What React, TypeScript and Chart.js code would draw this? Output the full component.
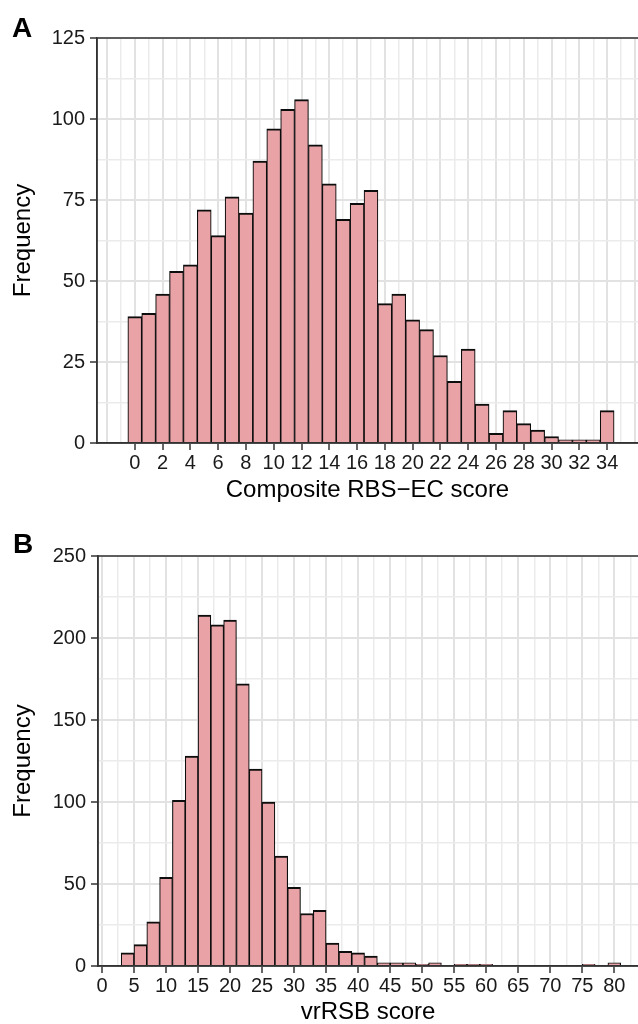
import React, { useEffect, useRef } from "react";
import { Chart, registerables } from "chart.js";

Chart.register(...registerables);

// ---------- Panel A data: Composite RBS−EC score ----------
const scoreA = [0, 1, 2, 3, 4, 5, 6, 7, 8, 9, 10, 11, 12, 13, 14, 15, 16, 17, 18, 19, 20, 21, 22, 23, 24, 25, 26, 27, 28, 29, 30, 31, 32, 33, 34];
const freqA = [39, 40, 46, 53, 55, 72, 64, 76, 71, 87, 97, 103, 106, 92, 80, 69, 74, 78, 43, 46, 38, 35, 27, 19, 29, 12, 3, 10, 6, 4, 2, 1, 1, 1, 10];
const xTickLabelsA = [0, 2, 4, 6, 8, 10, 12, 14, 16, 18, 20, 22, 24, 26, 28, 30, 32, 34];
const yTickLabelsA = [0, 25, 50, 75, 100, 125];

// ---------- Panel B data: vrRSB score (bin centres, width 2) ----------
const scoreB = [4, 6, 8, 10, 12, 14, 16, 18, 20, 22, 24, 26, 28, 30, 32, 34, 36, 38, 40, 42, 44, 46, 48, 50, 52, 54, 56, 58, 60, 62, 64, 66, 68, 70, 72, 74, 76, 78, 80];
const freqB = [8, 13, 27, 54, 101, 128, 214, 208, 211, 172, 120, 100, 67, 48, 32, 34, 14, 9, 8, 6, 2, 2, 2, 1, 2, 0, 1, 1, 1, 0, 0, 0, 0, 0, 0, 0, 1, 0, 2];
const xTickLabelsB = [0, 5, 10, 15, 20, 25, 30, 35, 40, 45, 50, 55, 60, 65, 70, 75, 80];
const yTickLabelsB = [0, 50, 100, 150, 200, 250];

const FONT = "'Liberation Sans', Arial, Helvetica, sans-serif";
const FILL = "#E9A3A7";
const EDGE = "#0d0d0d";
const GRID_MAJOR = "#E2E2E2";
const GRID_MINOR = "#EBEBEB";
const AXIS = "#333333";

type PanelSpec = {
  letter: string;
  letterX: number;
  letterY: number;
  xTitle: string;
  xs: number[];
  ys: number[];
  xMin: number;
  xMax: number;
  xMinorStep: number;
  xMajorStep: number;
  xLabels: number[];
  yMax: number;
  yMinorStep: number;
  yMajorStep: number;
  yLabels: number[];
  padTop: number;
  yAxisWidth: number;
  xAxisHeight: number;
  xTitlePadBottom: number;
};

function gridValues(min: number, max: number, step: number): number[] {
  const out: number[] = [];
  const start = Math.ceil(min / step - 1e-9);
  for (let i = start; i * step <= max + 1e-9; i++) {
    out.push(Math.round(i * step * 1000) / 1000);
  }
  return out;
}

function isMultiple(v: number, step: number): boolean {
  const r = v / step;
  return Math.abs(r - Math.round(r)) < 1e-6;
}

function makeChart(canvas: HTMLCanvasElement, s: PanelSpec): Chart {
  const framePlugin = {
    id: "panelFrame" + s.letter,
    afterDatasetsDraw(chart: any) {
      const { ctx, chartArea } = chart;
      const { left, top, right, bottom } = chartArea;
      ctx.save();
      ctx.strokeStyle = AXIS;
      ctx.lineWidth = 1.5;
      ctx.beginPath();
      ctx.moveTo(left, bottom);
      ctx.lineTo(left, top);
      ctx.lineTo(right, top);
      ctx.moveTo(left, bottom);
      ctx.lineTo(right, bottom);
      ctx.stroke();
      ctx.font = `bold 28px ${FONT}`;
      ctx.fillStyle = "#000";
      ctx.textBaseline = "alphabetic";
      ctx.textAlign = "left";
      ctx.fillText(s.letter, s.letterX, s.letterY);
      ctx.restore();
    },
  };

  const data = s.xs.map((x, i) => ({ x, y: s.ys[i] }));

  return new Chart(canvas, {
    type: "bar",
    data: {
      datasets: [
        {
          data: data as any,
          backgroundColor: FILL,
          borderColor: EDGE,
          borderWidth: { top: 2, left: 1.15, right: 1.15, bottom: 0 } as any,
          borderSkipped: false,
          barPercentage: 1,
          categoryPercentage: 1,
        },
      ],
    },
    options: {
      responsive: false,
      maintainAspectRatio: false,
      animation: false,
      devicePixelRatio: 1,
      layout: { padding: { top: s.padTop, left: 0, right: 0, bottom: 0 } },
      plugins: {
        legend: { display: false },
        tooltip: { enabled: false },
      },
      scales: {
        x: {
          type: "linear",
          min: s.xMin,
          max: s.xMax,
          bounds: "data",
          offset: false,
          afterBuildTicks: (scale: any) => {
            scale.ticks = gridValues(s.xMin, s.xMax, s.xMinorStep).map((v) => ({ value: v }));
          },
          afterFit: (scale: any) => {
            scale.height = s.xAxisHeight;
          },
          grid: {
            offset: false,
            drawTicks: true,
            tickLength: 7,
            tickWidth: 1.5,
            color: (c: any) => (isMultiple(c.tick?.value ?? 0, s.xMajorStep) ? GRID_MAJOR : GRID_MINOR),
            lineWidth: (c: any) => (isMultiple(c.tick?.value ?? 0, s.xMajorStep) ? 2 : 1.5),
            tickColor: (c: any) => (s.xLabels.includes(c.tick?.value) ? AXIS : "rgba(0,0,0,0)"),
          },
          border: { display: true, color: AXIS, width: 1.5 },
          ticks: {
            autoSkip: false,
            maxRotation: 0,
            minRotation: 0,
            padding: 1,
            color: "#1a1a1a",
            font: { family: FONT, size: 20, lineHeight: 1.2 },
            callback: (v: any) => (s.xLabels.includes(Number(v)) ? String(v) : ""),
          },
          title: {
            display: true,
            text: s.xTitle,
            color: "#000",
            font: { family: FONT, size: 24, lineHeight: 1 },
            padding: { top: 0, bottom: s.xTitlePadBottom },
          },
        },
        y: {
          type: "linear",
          min: 0,
          max: s.yMax,
          bounds: "data",
          afterBuildTicks: (scale: any) => {
            scale.ticks = gridValues(0, s.yMax, s.yMinorStep).map((v) => ({ value: v }));
          },
          afterFit: (scale: any) => {
            scale.width = s.yAxisWidth;
          },
          grid: {
            drawTicks: true,
            tickLength: 7,
            tickWidth: 1.5,
            color: (c: any) => (isMultiple(c.tick?.value ?? 0, s.yMajorStep) ? GRID_MAJOR : GRID_MINOR),
            lineWidth: (c: any) => (isMultiple(c.tick?.value ?? 0, s.yMajorStep) ? 2 : 1.5),
            tickColor: (c: any) => (s.yLabels.includes(c.tick?.value) ? AXIS : "rgba(0,0,0,0)"),
          },
          border: { display: true, color: AXIS, width: 1.5 },
          ticks: {
            autoSkip: false,
            padding: 5,
            color: "#1a1a1a",
            font: { family: FONT, size: 20, lineHeight: 1.2 },
            callback: (v: any) => (s.yLabels.includes(Number(v)) ? String(v) : ""),
          },
          title: {
            display: true,
            text: "Frequency",
            color: "#000",
            font: { family: FONT, size: 24, lineHeight: 1 },
            padding: { top: 11, bottom: 0 },
          },
        },
      },
    } as any,
    plugins: [framePlugin],
  });
}

const specA: PanelSpec = {
  letter: "A",
  letterX: 12,
  letterY: 37,
  xTitle: "Composite RBS\u2212EC score",
  xs: scoreA,
  ys: freqA,
  xMin: -2.72,
  xMax: 36.22,
  xMinorStep: 1,
  xMajorStep: 2,
  xLabels: xTickLabelsA,
  yMax: 125,
  yMinorStep: 12.5,
  yMajorStep: 25,
  yLabels: yTickLabelsA,
  padTop: 38,
  yAxisWidth: 97,
  xAxisHeight: 69,
  xTitlePadBottom: 10,
};

const specB: PanelSpec = {
  letter: "B",
  letterX: 13,
  letterY: 41,
  xTitle: "vrRSB score",
  xs: scoreB,
  ys: freqB,
  xMin: -0.62,
  xMax: 83.7,
  xMinorStep: 2.5,
  xMajorStep: 5,
  xLabels: xTickLabelsB,
  yMax: 250,
  yMinorStep: 25,
  yMajorStep: 50,
  yLabels: yTickLabelsB,
  padTop: 44,
  yAxisWidth: 98,
  xAxisHeight: 58,
  xTitlePadBottom: 0,
};

function Panel({ spec }: { spec: PanelSpec }) {
  const ref = useRef<HTMLCanvasElement | null>(null);
  useEffect(() => {
    if (!ref.current) return;
    const chart = makeChart(ref.current, spec);
    return () => chart.destroy();
  }, [spec]);
  return <canvas ref={ref} width={638} height={512} style={{ display: "block", width: 638, height: 512 }} />;
}

export default function App() {
  return (
    <div style={{ position: "absolute", left: 0, top: 0, width: 638, height: 1024, background: "#fff", overflow: "hidden" }}>
      <Panel spec={specA} />
      <Panel spec={specB} />
    </div>
  );
}
